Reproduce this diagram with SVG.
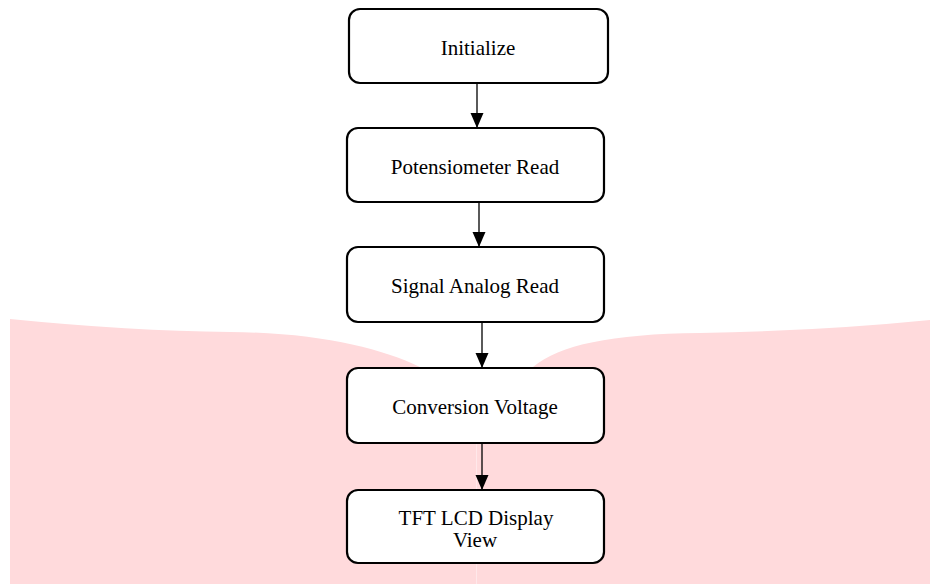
<svg xmlns="http://www.w3.org/2000/svg" width="930" height="584" viewBox="0 0 930 584">
<style>
.box{fill:#fff;stroke:#000;stroke-width:2.2}
.lbl{font-family:"Liberation Serif","Times New Roman",serif;font-size:21px;fill:#000;text-anchor:middle}
.edge{stroke:#000;stroke-width:1.3;fill:none;marker-end:url(#arr)}
.page{fill:#FFDADC}
</style>
<defs>
<marker id="arr" markerUnits="userSpaceOnUse" markerWidth="16" markerHeight="14" refX="15" refY="7" orient="auto" viewBox="0 0 16 14">
<path d="M0,0.5 L15,7 L0,13.5 Z" fill="#000"/>
</marker>
</defs>
<rect width="930" height="584" fill="#fff"/>
<g id="background">
<path class="page" d="M10,319 Q130,331 230,332 C320,333 380,348 420,367 L476,395 V584 H10 Z"/>
<path class="page" d="M477,395 L533,367 C560,345 610,334 700,333 Q820,331 930,320 V584 H477 Z"/>
<line x1="476.5" y1="380" x2="476.5" y2="584" stroke="#FFE8EA" stroke-width="1"/>
</g>
<g id="connectors">
<path class="edge" d="M477,83 V128"/>
<path class="edge" d="M479,202 V247"/>
<path class="edge" d="M482,322 V368"/>
<path class="edge" d="M482,443 V490"/>
</g>
<g id="n1">
<rect class="box" x="349" y="9" width="259" height="74" rx="11"/>
<text class="lbl" x="478" y="55">Initialize</text>
</g>
<g id="n2">
<rect class="box" x="347" y="128" width="257" height="74" rx="11"/>
<text class="lbl" x="475" y="174">Potensiometer Read</text>
</g>
<g id="n3">
<rect class="box" x="347" y="247" width="257" height="75" rx="11"/>
<text class="lbl" x="475" y="293">Signal Analog Read</text>
</g>
<g id="n4">
<rect class="box" x="347" y="368" width="257" height="75" rx="11"/>
<text class="lbl" x="475" y="414">Conversion Voltage</text>
</g>
<g id="n5">
<rect class="box" x="347" y="490" width="257" height="73" rx="11"/>
<text class="lbl" x="476" y="525">TFT LCD Display</text>
<text class="lbl" x="475" y="547">View</text>
</g>
</svg>
